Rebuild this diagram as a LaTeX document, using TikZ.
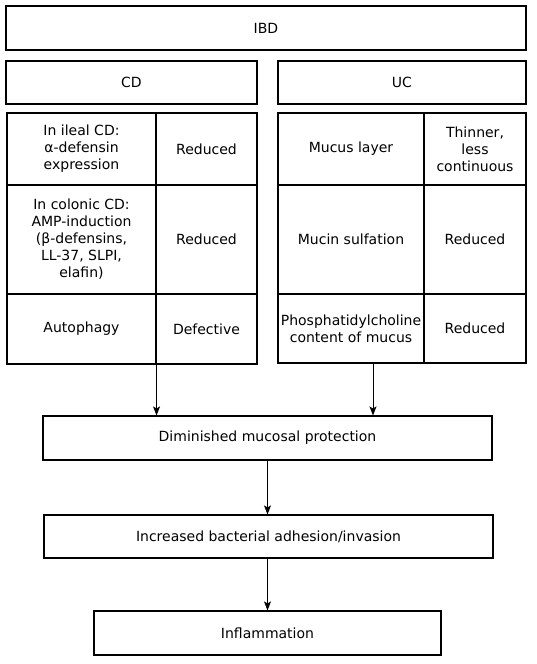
\documentclass[tikz,border=0pt]{standalone}
\usepackage{fontspec}
\setmainfont{DejaVu Sans}
\usetikzlibrary{arrows.meta}

\tikzset{
    box/.style={draw, line width=1.1pt, inner sep=1pt, align=center,
        font=\fontsize{14}{17}\selectfont},
    flow/.style={-{Stealth[length=9pt, width=7pt, inset=2pt]}, line width=1pt}
}

\begin{document}
\begin{tikzpicture}[x=1pt, y=-1pt]
    \useasboundingbox (0,0) rectangle (536,664);

    % Top level
    \node[box, minimum width=520pt, minimum height=44pt] (ibd) at (266,28) {IBD};
    \node[box, minimum width=251pt, minimum height=43pt] (cd) at (131.5,82.5) {CD};
    \node[box, minimum width=248pt, minimum height=43pt] (uc) at (402,82.5) {UC};

    % CD table
    \node[box, minimum width=149pt, minimum height=72pt] (cdA) at (81.5,149) {In ileal CD:\\ α-defensin\\ expression};
    \node[box, minimum width=101pt, minimum height=72pt] (cdAr) at (206.5,149) {Reduced};
    \node[box, minimum width=149pt, minimum height=109pt] (cdB) at (81.5,239.5) {In colonic CD:\\ AMP-induction\\ (β-defensins,\\ LL-37, SLPI,\\ elafin)};
    \node[box, minimum width=101pt, minimum height=109pt] (cdBr) at (206.5,239.5) {Reduced};
    \node[box, minimum width=149pt, minimum height=70pt] (cdC) at (81.5,329) {Autophagy};
    \node[box, minimum width=101pt, minimum height=70pt] (cdCr) at (206.5,329) {Defective};

    % UC table
    \node[box, minimum width=146pt, minimum height=72pt] (ucA) at (351,149) {Mucus layer};
    \node[box, minimum width=102pt, minimum height=72pt] (ucAr) at (475,149) {Thinner,\\ less\\ continuous};
    \node[box, minimum width=146pt, minimum height=109pt] (ucB) at (351,239.5) {Mucin sulfation};
    \node[box, minimum width=102pt, minimum height=109pt] (ucBr) at (475,239.5) {Reduced};
    \node[box, minimum width=146pt, minimum height=69pt] (ucC) at (351,328.5) {Phosphatidylcholine\\ content of mucus};
    \node[box, minimum width=102pt, minimum height=69pt] (ucCr) at (475,328.5) {Reduced};

    % Consequences
    \node[box, minimum width=449pt, minimum height=44pt] (dim) at (267.5,438) {Diminished mucosal protection};
    \node[box, minimum width=449pt, minimum height=43pt] (inc) at (268.5,536.5) {Increased bacterial adhesion/invasion};
    \node[box, minimum width=347pt, minimum height=44pt] (infl) at (267.5,633) {Inflammation};

    % Arrows
    \draw[flow] (cdC.south east) -- (cdC.south east |- dim.north);
    \draw[flow] ([xshift=22pt]ucC.south) -- ([xshift=22pt]ucC.south |- dim.north);
    \draw[flow] (dim.south) -- (dim.south |- inc.north);
    \draw[flow] (inc.south -| dim.south) -- (dim.south |- infl.north);
\end{tikzpicture}
\end{document}
